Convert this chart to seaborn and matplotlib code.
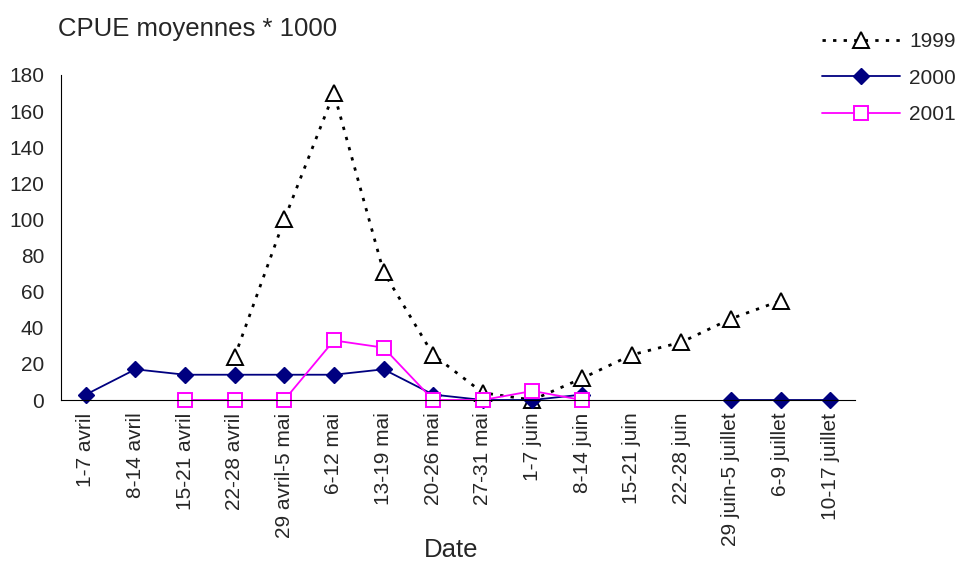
import numpy as np
import pandas as pd
import matplotlib
matplotlib.use("Agg")
import matplotlib.pyplot as plt
import seaborn as sns
from matplotlib.lines import Line2D

# Data (None = no value)
dates = ['1-7 avril', '8-14 avril', '15-21 avril', '22-28 avril', '29 avril-5 mai',
         '6-12 mai', '13-19 mai', '20-26 mai', '27-31 mai', '1-7 juin', '8-14 juin',
         '15-21 juin', '22-28 juin', '29 juin-5 juillet', '6-9 juillet', '10-17 juillet']
cpue_1999 = [None, None, None, 24, 100, 170, 71, 25, 4, 0, 12, 25, 32, 45, 55, None]
cpue_2000 = [3, 17, 14, 14, 14, 14, 17, 3, 0, 0, 3, None, None, 0, 0, 0]
cpue_2001 = [None, None, 0, 0, 0, 33, 29, 0, 0, 5, 0, None, None, None, None, None]
years = ['1999', '2000', '2001']

sns.set_style("white")
plt.rcParams['font.family'] = ['Liberation Sans', 'DejaVu Sans']

def to_frame(values):
    # split into contiguous segments so gaps are not bridged
    rows, seg, prev = [], 0, False
    for i, v in enumerate(values):
        if v is None:
            if prev:
                seg += 1
            prev = False
            continue
        rows.append({'x': i, 'y': v, 'seg': seg})
        prev = True
    return pd.DataFrame(rows)

fig, ax = plt.subplots(figsize=(9.57, 5.61), dpi=100)
fig.subplots_adjust(left=61 / 957, right=855 / 957, top=1 - 75 / 561, bottom=1 - 400 / 561)

dotted = (0, (1.2, 2.6))
styles = {
    '1999': dict(color='black', linestyle=dotted, linewidth=2, marker='^',
                 markersize=11, markerfacecolor='white', markeredgecolor='black',
                 markeredgewidth=1.4),
    '2000': dict(color='#000080', linestyle='-', linewidth=1.3, marker='D',
                 markersize=8.5, markerfacecolor='#000080', markeredgecolor='#000080'),
    '2001': dict(color='#FF00FF', linestyle='-', linewidth=1.3, marker='s',
                 markersize=10, markerfacecolor='white', markeredgecolor='#FF00FF',
                 markeredgewidth=1.4),
}

for year, vals in zip(years, [cpue_1999, cpue_2000, cpue_2001]):
    df = to_frame(vals)
    st = styles[year]
    sns.lineplot(data=df, x='x', y='y', units='seg', estimator=None, ax=ax,
                 color=st['color'], linewidth=st['linewidth'],
                 marker=st['marker'], markersize=st['markersize'],
                 markerfacecolor=st['markerfacecolor'],
                 markeredgecolor=st['markeredgecolor'],
                 markeredgewidth=st.get('markeredgewidth', 1), legend=False)
    for line in ax.get_lines()[-df['seg'].nunique():]:
        line.set_linestyle(st['linestyle'])
        line.set_clip_on(False)

ax.set_xlim(-0.5, len(dates) - 0.5)
ax.set_ylim(0, 180)
ax.set_yticks(range(0, 181, 20))
ax.set_xticks(range(len(dates)))
ax.set_xticklabels(dates, rotation=90, fontsize=15)
ax.set_xticks(np.arange(-0.5, len(dates), 1), minor=True)
ax.tick_params(axis='x', which='major', length=0, pad=9)
ax.tick_params(axis='x', which='minor', length=4, width=0.8, direction='out', color='black')
ax.tick_params(axis='y', length=4, width=0.8, direction='out', color='black', labelsize=15, pad=8)
ax.set_xlabel('')
ax.set_ylabel('')

sns.despine(ax=ax, top=True, right=True)
for sp in ['left', 'bottom']:
    ax.spines[sp].set_color('black')
    ax.spines[sp].set_linewidth(0.8)

fig.text(58 / 957, 1 - 29 / 561, 'CPUE moyennes * 1000', fontsize=18.5, ha='left', va='center')
fig.text(451 / 957, 1 - 550 / 561, 'Date', fontsize=18.5, ha='center', va='center')

handles = []
for year in years:
    st = styles[year]
    handles.append(Line2D([], [], color=st['color'], linestyle=st['linestyle'],
                          linewidth=st['linewidth'], marker=st['marker'],
                          markersize=st['markersize'],
                          markerfacecolor=st['markerfacecolor'],
                          markeredgecolor=st['markeredgecolor'],
                          markeredgewidth=st.get('markeredgewidth', 1)))
fig.legend(handles, years, loc='upper left',
           bbox_to_anchor=(822 / 957, 1 - 32 / 561), frameon=False, fontsize=15,
           handlelength=3.75, labelspacing=0.85, handletextpad=0.45,
           borderpad=0, borderaxespad=0)

fig.savefig('out.png', dpi=100)
